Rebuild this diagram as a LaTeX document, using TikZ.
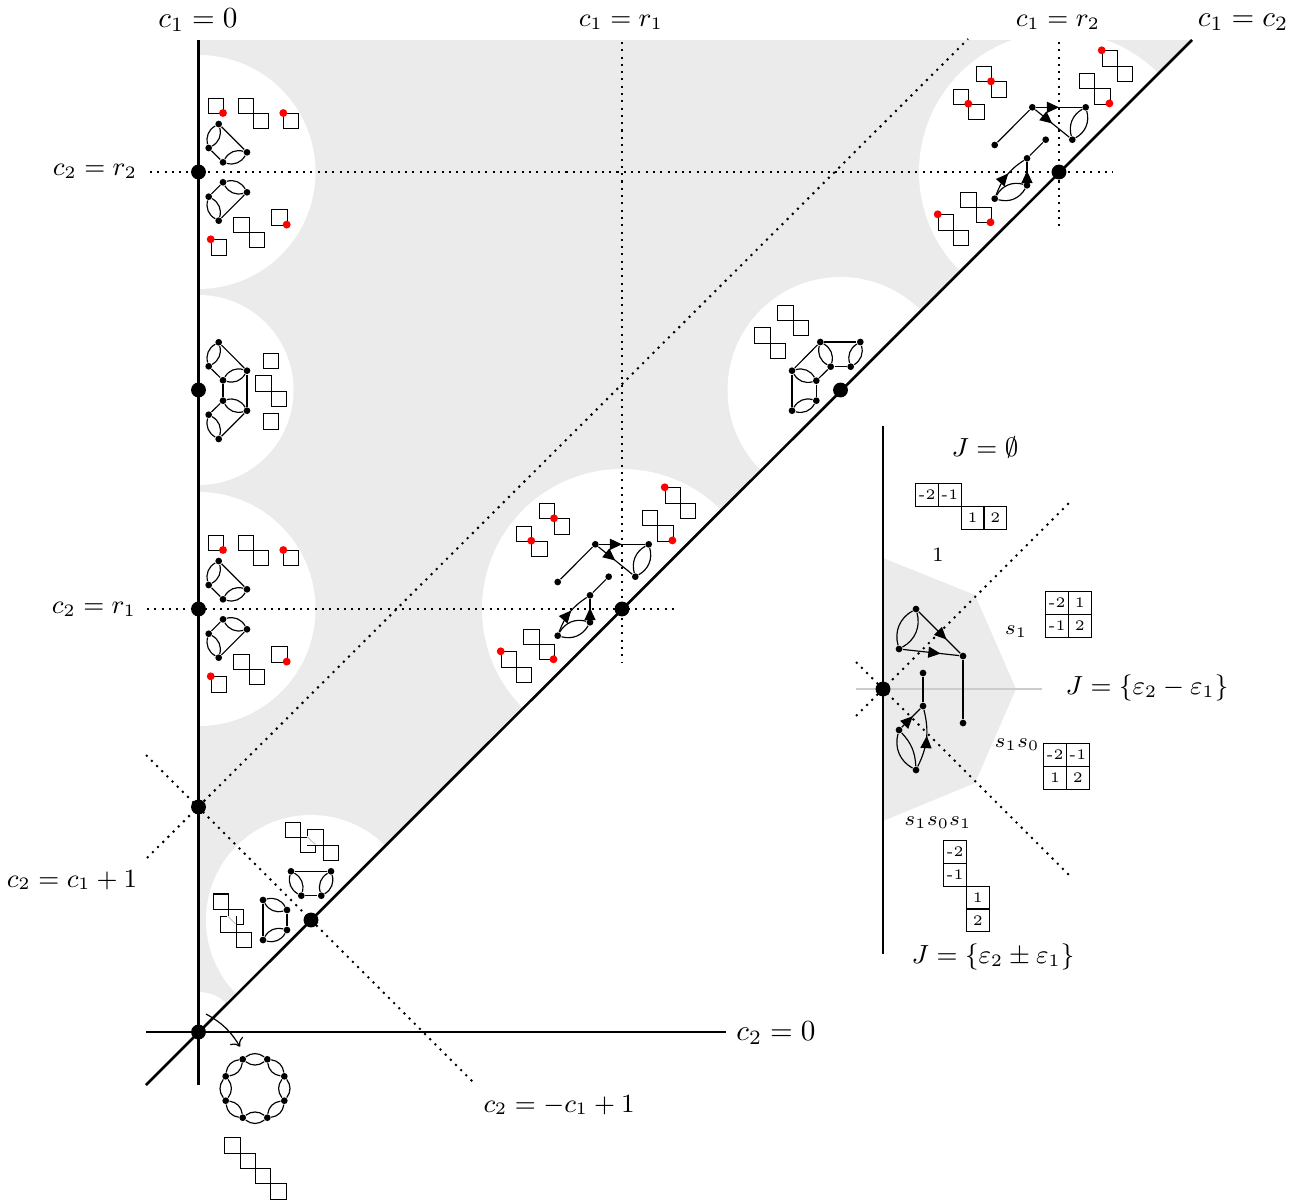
\documentclass[tikz,border=0pt]{standalone}
\usepackage{amsmath}
\usetikzlibrary{arrows.meta,decorations.markings}
\definecolor{chamber}{HTML}{EBEBEB}
\definecolor{wallgrey}{HTML}{CCCCCC}

\begin{document}
\begin{tikzpicture}[
  x=0.343pt, y=-0.343pt,
  wall/.style={line width=.9pt},
  dots/.style={line width=.7pt, dash pattern=on .7pt off 1.8pt},
  bigdot/.style={circle, fill=black, inner sep=0pt, minimum size=5.1pt},
  vert/.style={circle, fill=black, inner sep=0pt, minimum size=2.3pt},
  reddot/.style={circle, fill=red, inner sep=0pt, minimum size=2.7pt},
  cell/.style={draw, inner sep=0pt, minimum size=5.25pt, anchor=north west},
  numcell/.style={draw, inner sep=0pt, minimum size=7.85pt, anchor=north west, font=\tiny},
  hole/.style={fill=white, draw=none},
  midarrow/.style={postaction={decorate}, decoration={markings,
      mark=at position #1 with {\arrow{Triangle[length=4.2pt,width=3.8pt]}}}},
  lab/.style={font=\scriptsize, inner sep=0pt},
  lens/.style={bend angle=38},
]
\useasboundingbox (0,0) rectangle (1304,1203);

% chambers
\fill[chamber] (198.5,40) -- (1192,40) -- (198.5,1032) -- cycle;
\fill[hole] (198.5,172) circle (117);
\fill[hole] (198.5,390) circle (95);
\fill[hole] (198.5,609) circle (117);
\fill[hole] (198.5,1032) circle (40);
\fill[hole] (311,920) circle (105);
\fill[hole] (622,609) circle (140);
\fill[hole] (840.5,390) circle (113);
\fill[hole] (1059,172) circle (140);

% walls
\coordinate (wt) at (198.5,40);
\coordinate (wb) at (198.5,1085);
\coordinate (dt) at (1192,40);
\coordinate (db) at (146,1085);
\coordinate (hl) at (146,1032);
\coordinate (hr) at (726,1032);
\draw[wall] (wt) -- (wb);
\draw[wall] (db) -- (dt);
\draw[wall] (hl) -- (hr);

% dotted lines
\coordinate (r2l) at (150,172);
\coordinate (r2r) at (1113,172);
\coordinate (r1l) at (147,609);
\coordinate (r1r) at (676,609);
\coordinate (v1t) at (622,42);
\coordinate (v1b) at (622,662);
\coordinate (v2t) at (1059,42);
\coordinate (v2b) at (1059,226);
\coordinate (pl) at (147,858);
\coordinate (pr) at (968,39);
\coordinate (ml) at (146,755);
\coordinate (mr) at (474,1083);
\draw[dots] (r2l) -- (r2r);
\draw[dots] (r1l) -- (r1r);
\draw[dots] (v1t) -- (v1b);
\draw[dots] (v2t) -- (v2b);
\draw[dots] (pl) -- (pr);
\draw[dots] (ml) -- (mr);

% special points
\foreach \n/\px/\py in {o/198.5/1032, p1/198.5/807, p2/311/920, p3/198.5/609, p4/198.5/390,
    p5/198.5/172, p6/622/609, p7/840.5/390, p8/1059/172}
  \node[bigdot] (\n) at (\px,\py) {};

% wall clusters at c2=r2 and c2=r1
\foreach \cy/\w in {0/r, 437/q} {
\begin{scope}[shift={(0,\cy)}]
  \node[vert] (\w a) at (218.7,124) {};
  \node[vert] (\w b) at (208.7,148) {};
  \node[vert] (\w c) at (223,162.3) {};
  \node[vert] (\w d) at (247,152.3) {};
  \node[vert] (\w e) at (208.7,196.7) {};
  \node[vert] (\w f) at (223,182.3) {};
  \node[vert] (\w g) at (247,192.3) {};
  \node[vert] (\w h) at (218.7,220.7) {};
  \foreach \u/\v in {a/b, c/d, f/g, e/h}
    \draw[lens] (\w\u) to[bend left] (\w\v) (\w\u) to[bend right] (\w\v);
  \foreach \u/\v in {b/c, a/d, e/f, g/h}
    \draw (\w\u) -- (\w\v);
  \foreach \i/\sx/\sy in {1/207.7/97.7, 2/237.7/97.7, 3/253/113, 4/283/113,
      5/271.3/209.3, 6/233.3/216.7, 7/248.6/232, 8/210.7/239.3}
    \node[cell] (\w s\i) at (\sx,\sy) {};
  \foreach \i/\sx/\sy in {1/223/113, 2/283.3/113, 3/286.7/224.6, 4/210.7/239.3}
    \node[reddot] (\w m\i) at (\sx,\sy) {};
\end{scope}
}

% wall cluster at the middle of c1=0
\node[vert] (ma) at (218.7,342.3) {};
\node[vert] (mb) at (208.7,366.3) {};
\node[vert] (mc) at (223,380.3) {};
\node[vert] (md) at (247,370.7) {};
\node[vert] (me) at (223,400.7) {};
\node[vert] (mf) at (247,410.7) {};
\node[vert] (mg) at (208.7,414.7) {};
\node[vert] (mh) at (218.7,439) {};
\foreach \u/\v in {a/b, c/d, e/f, g/h}
  \draw[lens] (m\u) to[bend left] (m\v) (m\u) to[bend right] (m\v);
\foreach \u/\v in {b/c, a/d, c/e, d/f, e/g, f/h}
  \draw (m\u) -- (m\v);
\foreach \i/\sx/\sy in {1/262.7/352.7, 2/255.3/375.3, 3/270.6/390.6, 4/262.7/413.3}
  \node[cell] (ms\i) at (\sx,\sy) {};

% clusters on the diagonal with arrows
\foreach \cx/\cy/\w in {0/0/y, 437/-437/z} {
\begin{scope}[shift={(\cx,\cy)}]
  \node[vert] (\w a) at (557.7,582) {};
  \node[vert] (\w b) at (595.3,544.3) {};
  \node[vert] (\w c) at (648.7,544.3) {};
  \node[vert] (\w d) at (635.3,576.7) {};
  \node[vert] (\w e) at (608.7,576.7) {};
  \node[vert] (\w f) at (590,595.3) {};
  \node[vert] (\w g) at (590,622.3) {};
  \node[vert] (\w h) at (557.7,635.7) {};
  \draw (\w a) -- (\w b);
  \draw (\w e) -- (\w f);
  \draw[midarrow=.5] (\w b) -- (\w c);
  \draw[midarrow=.5] (\w b) -- (\w d);
  \draw[midarrow=.55] (\w g) -- (\w f);
  \draw[midarrow=.55] (\w h) to[bend left=18] (\w f);
  \draw[lens] (\w c) to[bend left] (\w d) (\w c) to[bend right] (\w d);
  \draw[lens] (\w g) to[bend left] (\w h) (\w g) to[bend right] (\w h);
  \foreach \i/\sx/\sy in {1/538.7/503, 2/554/518.3, 3/516/525.7, 4/531.3/541,
      5/664.7/487.3, 6/680/502.5, 7/642/510, 8/657.3/525.3,
      9/523.3/628.7, 10/538.6/644, 11/500.7/651.3, 12/516/666.7}
    \node[cell] (\w s\i) at (\sx,\sy) {};
  \foreach \i/\sx/\sy in {1/554/518.3, 2/531.3/540.7, 3/664.7/487.3, 4/672.4/540.4,
      5/553.5/659.3, 6/500.7/651.3}
    \node[reddot] (\w m\i) at (\sx,\sy) {};
\end{scope}
}

% cluster at the middle of the diagonal
\node[vert] (na) at (820.3,342) {};
\node[vert] (nb) at (860.3,342) {};
\node[vert] (nc) at (830.7,366.7) {};
\node[vert] (nd) at (850.7,366.7) {};
\node[vert] (ne) at (792,370.7) {};
\node[vert] (nf) at (816.3,380.7) {};
\node[vert] (ng) at (816.3,400.7) {};
\node[vert] (nh) at (792,410.7) {};
\foreach \u/\v in {a/c, b/d, e/f, g/h}
  \draw[lens] (n\u) to[bend left] (n\v) (n\u) to[bend right] (n\v);
\foreach \u/\v in {a/b, c/d, a/e, c/f, f/g, e/h}
  \draw (n\u) -- (n\v);
\foreach \i/\sx/\sy in {1/777.3/304.7, 2/792.6/320, 3/754.3/327.3, 4/769.6/342.6}
  \node[cell] (ns\i) at (\sx,\sy) {};

% cluster at c2=-c1+1
\node[vert] (ka) at (291,871.3) {};
\node[vert] (kb) at (331,871.3) {};
\node[vert] (kc) at (301.3,895.7) {};
\node[vert] (kd) at (321.3,895.7) {};
\node[vert] (ke) at (263,900) {};
\node[vert] (kf) at (287,910) {};
\node[vert] (kg) at (287,930) {};
\node[vert] (kh) at (263,940) {};
\foreach \u/\v in {a/c, b/d, e/f, g/h}
  \draw[lens] (k\u) to[bend left] (k\v) (k\u) to[bend right] (k\v);
\foreach \u/\v in {a/b, c/d, f/g, e/h}
  \draw (k\u) -- (k\v);
\foreach \i/\sx/\sy in {1/284.7/821.6, 2/300/836.9, 3/307.3/829.2, 4/322.6/844.5,
    5/212.7/893.4, 6/228/908.7, 7/220.3/916.3, 8/235.6/931.6}
  \node[cell] (ks\i) at (\sx,\sy) {};
\coordinate (kx1) at (307.3,836.9);
\coordinate (ky1) at (315.3,844.5);
\coordinate (kx2) at (228,916.3);
\coordinate (ky2) at (235.6,924);
\filldraw[white] (kx1) rectangle (ky1);
\filldraw[white] (kx2) rectangle (ky2);
\draw[wallgrey] (kx1) -- (ky1);
\draw[wallgrey] (kx2) -- (ky2);

% the origin
\foreach \i/\px/\py in {1/242.7/1059.3, 2/267.3/1059.3, 3/284.3/1076.3, 4/284.3/1100.7,
    5/267.3/1117.7, 6/242.7/1117.7, 7/225.7/1100.7, 8/225.7/1076.3}
  \node[vert] (oct\i) at (\px,\py) {};
\foreach \i/\j in {1/2,2/3,3/4,4/5,5/6,6/7,7/8,8/1}
  \draw[lens] (oct\i) to[bend left] (oct\j) (oct\i) to[bend right] (oct\j);
\foreach \i/\sx/\sy in {1/224.3/1137.3, 2/239.6/1152.6, 3/254.9/1167.9, 4/270.2/1183.2}
  \node[cell] (os\i) at (\sx,\sy) {};
\coordinate (ca) at (206,1014);
\coordinate (cb) at (240,1046.7);
\draw[-{To[length=2.5pt]}] (ca) to[bend left=15] (cb);

% labels of the walls
\node (l1) at (198,20) {$c_1=0$};
\node[font=\small] (l2) at (621,22) {$c_1=r_1$};
\node[font=\small] (l3) at (1058,22) {$c_1=r_2$};
\node (l4) at (1243,22) {$c_1=c_2$};
\node[font=\small] (l5) at (95,171) {$c_2=r_2$};
\node[font=\small] (l6) at (94,609) {$c_2=r_1$};
\node[font=\small] (l7) at (72,880) {$c_2=c_1+1$};
\node (l8) at (776,1033) {$c_2=0$};
\node[font=\small] (l9) at (559,1105) {$c_2=-c_1+1$};

% the small panel
\fill[chamber] (883,558) -- (975,595) -- (1016,689) -- (975,783) -- (883,821) -- cycle;
\coordinate (gl) at (856,689);
\coordinate (gr) at (1042,689);
\draw[wallgrey] (gl) -- (gr);
\coordinate (jt) at (883,426);
\coordinate (jb) at (883,954);
\draw[wall] (jt) -- (jb);
\coordinate (apl) at (856,716);
\coordinate (apr) at (1069,503);
\coordinate (aml) at (856,662);
\coordinate (amr) at (1069,875);
\draw[dots] (apl) -- (apr);
\draw[dots] (aml) -- (amr);
\node[bigdot] (jo) at (883,689) {};

\node[vert] (ja) at (916,609) {};
\node[vert] (jb2) at (899,649) {};
\node[vert] (jc) at (963,656) {};
\node[vert] (jd) at (923,673) {};
\node[vert] (je) at (923,706) {};
\node[vert] (jf) at (963,723) {};
\node[vert] (jg) at (899,730) {};
\node[vert] (jh) at (916,770) {};
\draw[lens] (ja) to[bend left] (jb2) (ja) to[bend right] (jb2);
\draw[midarrow=.67] (ja) -- (jc);
\draw[midarrow=.67] (jb2) -- (jc);
\draw (jc) -- (jf);
\draw (jd) -- (je);
\draw[midarrow=.6] (jg) -- (je);
\draw[midarrow=.55] (jh) to[bend right=20] (je);
\draw[lens] (jg) to[bend left=20] (jh) (jg) to[bend right] (jh);

\foreach \n/\px/\py/\t in {a1/915/483/-2, a2/937.8/483/-1, a3/960.6/506/1, a4/983.4/506/2,
    b1/1045/591/-2, b2/1067.8/591/1, b3/1045/613.8/-1, b4/1067.8/613.8/2,
    c1/1043/743/-2, c2/1065.8/743/-1, c3/1043/765.8/1, c4/1065.8/765.8/2,
    d1/943/840/-2, d2/943/862.8/-1, d3/965.8/885.6/1, d4/965.8/908.4/2}
  \node[numcell] (\n) at (\px,\py) {\t};

\node[font=\small] (j1) at (985,447) {$J=\emptyset$};
\node[font=\small] (j2) at (1147,688) {$J=\{\varepsilon_2-\varepsilon_1\}$};
\node[font=\small] (j3) at (993,957) {$J=\{\varepsilon_2\pm\varepsilon_1\}$};
\node[lab] (w1) at (938,555) {$1$};
\node[lab] (w2) at (1016,632) {$s_1$};
\node[lab] (w3) at (1017,745) {$s_1s_0$};
\node[lab] (w4) at (938,823) {$s_1s_0s_1$};
\end{tikzpicture}
\end{document}
